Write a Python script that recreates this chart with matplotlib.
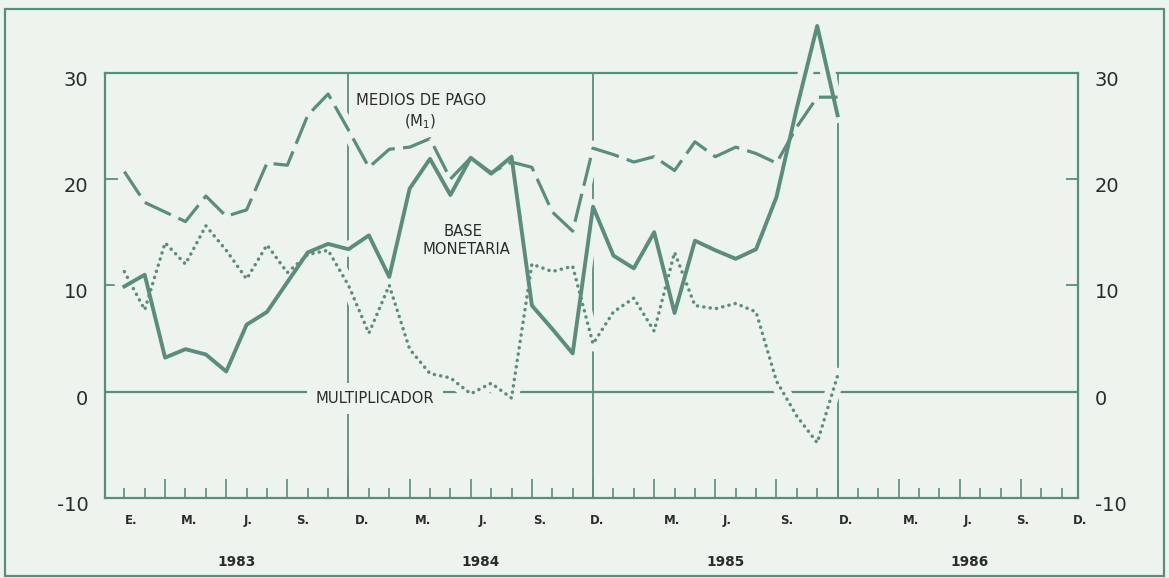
import numpy as np
import matplotlib
matplotlib.use('Agg')
import matplotlib.pyplot as plt
from matplotlib.patches import Rectangle
from matplotlib.transforms import ScaledTranslation

# tasas de variacion (%), enero 1983 - diciembre 1985, mensual
base_monetaria = [9.9, 11.0, 3.2, 4.0, 3.5, 1.9, 6.3, 7.5, 10.3, 13.1, 13.9, 13.4,
                  14.7, 10.8, 19.1, 21.9, 18.5, 22.0, 20.5, 22.1, 8.1, 5.9, 3.6, 17.4,
                  12.8, 11.6, 15.0, 7.4, 14.2, 13.3, 12.5, 13.4, 18.3, 26.7, 34.4, 26.0]
medios_de_pago = [20.7, 17.8, 16.9, 16.0, 18.4, 16.5, 17.1, 21.5, 21.3, 26.0, 28.0, 24.6,
                  21.1, 22.8, 23.0, 23.8, 20.0, 22.0, 20.6, 21.6, 21.1, 16.9, 15.1, 22.9,
                  22.3, 21.6, 22.1, 20.8, 23.5, 22.1, 23.0, 22.4, 21.5, 24.9, 27.7, 27.7]
multiplicador = [11.3, 7.7, 14.0, 12.0, 15.6, 13.3, 10.6, 13.8, 11.2, 12.9, 13.3, 10.0,
                 5.5, 10.0, 4.0, 1.7, 1.3, -0.2, 0.8, -0.6, 12.0, 11.3, 11.8, 4.5,
                 7.5, 8.8, 5.7, 13.1, 8.1, 7.8, 8.3, 7.5, 1.0, -2.3, -4.8, 1.5]

years = ['1983', '1984', '1985', '1986']
month_labels = ['E.', 'M.', 'J.', 'S.', 'D.',
                'M.', 'J.', 'S.', 'D.',
                'M.', 'J.', 'S.', 'D.',
                'M.', 'J.', 'S.', 'D.']
# where the hand-lettered month labels sit (months from Jan 1983)
month_label_pos = [0.36, 3.2, 6.06, 8.76, 11.65, 14.65, 17.6, 20.4, 23.2,
                   26.9, 29.6, 32.5, 35.4, 38.6, 41.4, 44.1, 46.9]
y_ticks = [-10, 0, 10, 20, 30]

bg = '#edf4ee'
ink = '#5b8d7d'
txt = '#2b2b2b'

plt.rcParams['font.family'] = 'DejaVu Sans'
plt.rcParams['mathtext.default'] = 'regular'

fig = plt.figure(figsize=(11.69, 5.78), dpi=100, facecolor=bg)
ax = fig.add_axes([0.0898, 0.1384, 0.8324, 0.7358], facecolor=bg)
fig.patches.append(Rectangle((0.0043, 0.0035), 0.9914, 0.981, transform=fig.transFigure,
                             fill=False, edgecolor=ink, lw=1.6))

x = np.arange(len(base_monetaria))

# reference lines: zero and end of each year
ax.axhline(0, color=ink, lw=1.6, zorder=1)
for k in range(3):
    ax.axvline(12 * k + 11, color=ink, lw=1.3, zorder=1)

series = [
    (medios_de_pago, dict(ls=(0, (9, 2.6)), lw=2.3)),
    (base_monetaria, dict(ls='-', lw=2.8)),
    (multiplicador, dict(ls=(0, (0.05, 1.8)), lw=2.5, dash_capstyle='round')),
]
# halo in background colour breaks the reference lines where curves cross
for vals, st in series:
    ax.plot(x, vals, color=bg, lw=11, zorder=2.6, clip_on=False, solid_joinstyle='round')
for vals, st in series:
    ax.plot(x, vals, color=ink, zorder=3, clip_on=False, **st)

lab = dict(color=txt, fontsize=10.6, ha='center', va='center', zorder=4)
ax.text(14.55, 27.4, 'MEDIOS DE PAGO', **lab)
ax.text(14.5, 25.4, '(M$_1$)', **lab)
ax.text(16.6, 15.1, 'BASE', **lab)
ax.text(16.8, 13.4, 'MONETARIA', **lab)
ax.text(12.3, -0.65, 'MULTIPLICADOR', bbox=dict(fc=bg, ec='none', pad=6), **lab)

ax.set_xlim(-0.95, 46.8)
ax.set_ylim(-10, 30)
ax.set_yticks(y_ticks)
ax.set_yticklabels([str(v) for v in y_ticks])
ax.tick_params(axis='y', direction='in', length=9, width=1.3, color=ink,
               left=True, right=True, labelleft=True, labelright=True,
               labelsize=14, labelcolor=txt, pad=12)
off = ScaledTranslation(0, -0.055, fig.dpi_scale_trans)
for t in ax.yaxis.get_majorticklabels():
    t.set_transform(t.get_transform() + off)

ax.set_xticks(np.arange(2, 47, 3))
ax.set_xticks(np.arange(0, 47), minor=True)
ax.tick_params(axis='x', which='major', direction='in', length=14, width=1.2,
               color=ink, labelbottom=False)
ax.tick_params(axis='x', which='minor', direction='in', length=7, width=1.2, color=ink)

for s in ax.spines.values():
    s.set_color(ink)
    s.set_linewidth(1.6)

trans = ax.get_xaxis_transform()
for letter, pos in zip(month_labels, month_label_pos):
    ax.text(pos, -0.053, letter, transform=trans, ha='center', va='center',
            fontsize=8.5, fontweight='bold', color=txt)
for k, year in enumerate(years):
    ax.text(12 * k + 5.5, -0.150, year, transform=trans, ha='center', va='center',
            fontsize=9.8, fontweight='bold', color=txt)

fig.savefig('out.png', dpi=100, facecolor=bg)
